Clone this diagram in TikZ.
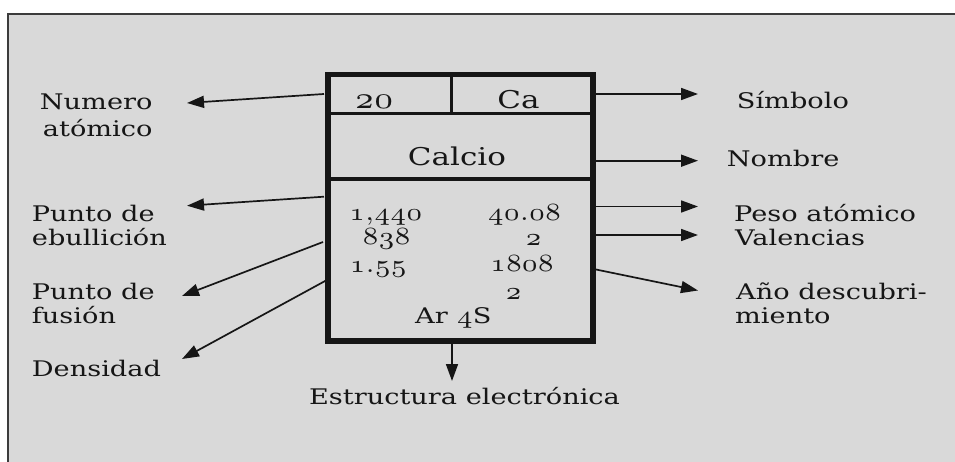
\documentclass[tikz,border=0pt]{standalone}
\usepackage{fontspec}
\usepackage{graphicx}
\setmainfont{DejaVu Serif}[FakeStretch=1.265]
\usetikzlibrary{arrows.meta}
\definecolor{panel}{HTML}{D9D9D9}
\definecolor{panelline}{HTML}{3C3C3C}
\definecolor{ink}{HTML}{161616}
% old-style digits (Computer Modern math italic, 7pt design), scaled up and stretched like the reference
\newcommand\osd[3][3.9]{\scalebox{#1}[#2]{\fontencoding{OML}\fontfamily{cmm}\fontseries{m}\fontshape{it}\fontsize{7}{8}\selectfont #3}}
\begin{document}
\begin{tikzpicture}[x=1pt,y=-1pt,
  lab/.style={font=\fontsize{21.5}{24}\selectfont, inner sep=0pt, text=ink},
  big/.style={font=\fontsize{24.5}{27}\selectfont, inner sep=0pt, text=ink},
  num/.style={inner sep=0pt, text=ink},
  arr/.style={draw=ink, line width=1.7pt, -{Triangle[length=17pt,width=12pt]}},
  divider/.style={draw=ink, line width=3.3pt},
]
\clip (0,0) rectangle (955,462);
\fill[white] (0,0) rectangle (955,462);
% grey panel
\draw[panelline, line width=2pt, fill=panel] (7.7,480) -- (7.7,13.7) -- (975,13.7) -- (975,480) -- cycle;

% element box
\node[draw=ink, line width=5.5pt, minimum width=265pt, minimum height=266.5pt, inner sep=0pt] (box) at (460.5,207.75) {};
\draw[divider] (330,113.3) -- (591,113.3);
\draw[divider] (330,179) -- (591,179);
\draw[divider] (451.3,77) -- (451.3,113.3);

% box contents
\node[num, anchor=base] (zNum) at (374.2,108.3) {\osd[4.7]{4.4}{20}};
\node[big, anchor=base] (zSym) at (518.5,109) {Ca};
\node[big, anchor=base] (zName) at (457,166) {Calcio};
\node[num, anchor=base] (zEb) at (385.8,220.7) {\osd{3.55}{1\char59 440}};
\node[num, anchor=base] (zPeso) at (524.5,220.7) {\osd{3.55}{40\char58 08}};
\node[num, anchor=base] (zFus) at (386.7,245) {\osd{3.55}{838}};
\node[num, anchor=base] (zVal) at (533.7,245.7) {\osd{3.55}{2}};
\node[num, anchor=base] (zDen) at (378.3,272.7) {\osd{3.55}{1\char58 55}};
\node[num, anchor=base] (zYear) at (522,271.7) {\osd{3.55}{1808}};
\node[num, anchor=base] (zExp) at (513.7,299) {\osd{3.55}{2}};
\node[lab, anchor=base] (zConf) at (453.3,323.3) {Ar\hspace{9pt}\osd{3.55}{4}S};

% left labels
\node[lab, anchor=base east] (lNum1) at (152.7,109.3) {Numero};
\node[lab, anchor=base east] (lNum2) at (152.7,136.7) {atómico};
\node[lab, anchor=base west] (lEb1) at (31.7,221.7) {Punto de};
\node[lab, anchor=base west] (lEb2) at (31.7,245.7) {ebullición};
\node[lab, anchor=base west] (lFu1) at (31.7,299) {Punto de};
\node[lab, anchor=base west] (lFu2) at (31.7,323.3) {fusión};
\node[lab, anchor=base west] (lDen) at (31.7,376) {Densidad};

% right labels
\node[lab, anchor=base west] (rSym) at (736.7,109) {Símbolo};
\node[lab, anchor=base west] (rName) at (726.7,166.7) {Nombre};
\node[lab, anchor=base west] (rPeso) at (734,221.7) {Peso atómico};
\node[lab, anchor=base west] (rVal) at (735,245.7) {Valencias};
\node[lab, anchor=base west] (rYear1) at (736,299.3) {Año descubri-};
\node[lab, anchor=base west] (rYear2) at (735,323.3) {miento};

% bottom label
\node[lab, anchor=base] (bConf) at (464.5,404.5) {Estructura electrónica};

% connector end points
\coordinate (sNum) at (324,94);   \coordinate (tNum) at (187,103);
\coordinate (sEb) at (324,196.7); \coordinate (tEb) at (187,205.7);
\coordinate (sFu) at (323,242);   \coordinate (tFu) at (182,296);
\coordinate (sDen) at (326,280.5);\coordinate (tDen) at (182,359);
\coordinate (sSym) at (595,94);   \coordinate (tSym) at (698,94);
\coordinate (sName) at (595,160.7); \coordinate (tName) at (698,160.7);
\coordinate (sPeso) at (595,206.5); \coordinate (tPeso) at (698,206.5);
\coordinate (sVal) at (595,235);  \coordinate (tVal) at (698,235);
\coordinate (sYear) at (595,269.3); \coordinate (tYear) at (698,290.5);
\coordinate (sConf) at (452,343); \coordinate (tConf) at (452,381);

\draw[arr] (sNum) -- (tNum);
\draw[arr] (sEb) -- (tEb);
\draw[arr] (sFu) -- (tFu);
\draw[arr] (sDen) -- (tDen);
\draw[arr] (sSym) -- (tSym);
\draw[arr] (sName) -- (tName);
\draw[arr] (sPeso) -- (tPeso);
\draw[arr] (sVal) -- (tVal);
\draw[arr] (sYear) -- (tYear);
\draw[arr] (sConf) -- (tConf);
\end{tikzpicture}
\end{document}
